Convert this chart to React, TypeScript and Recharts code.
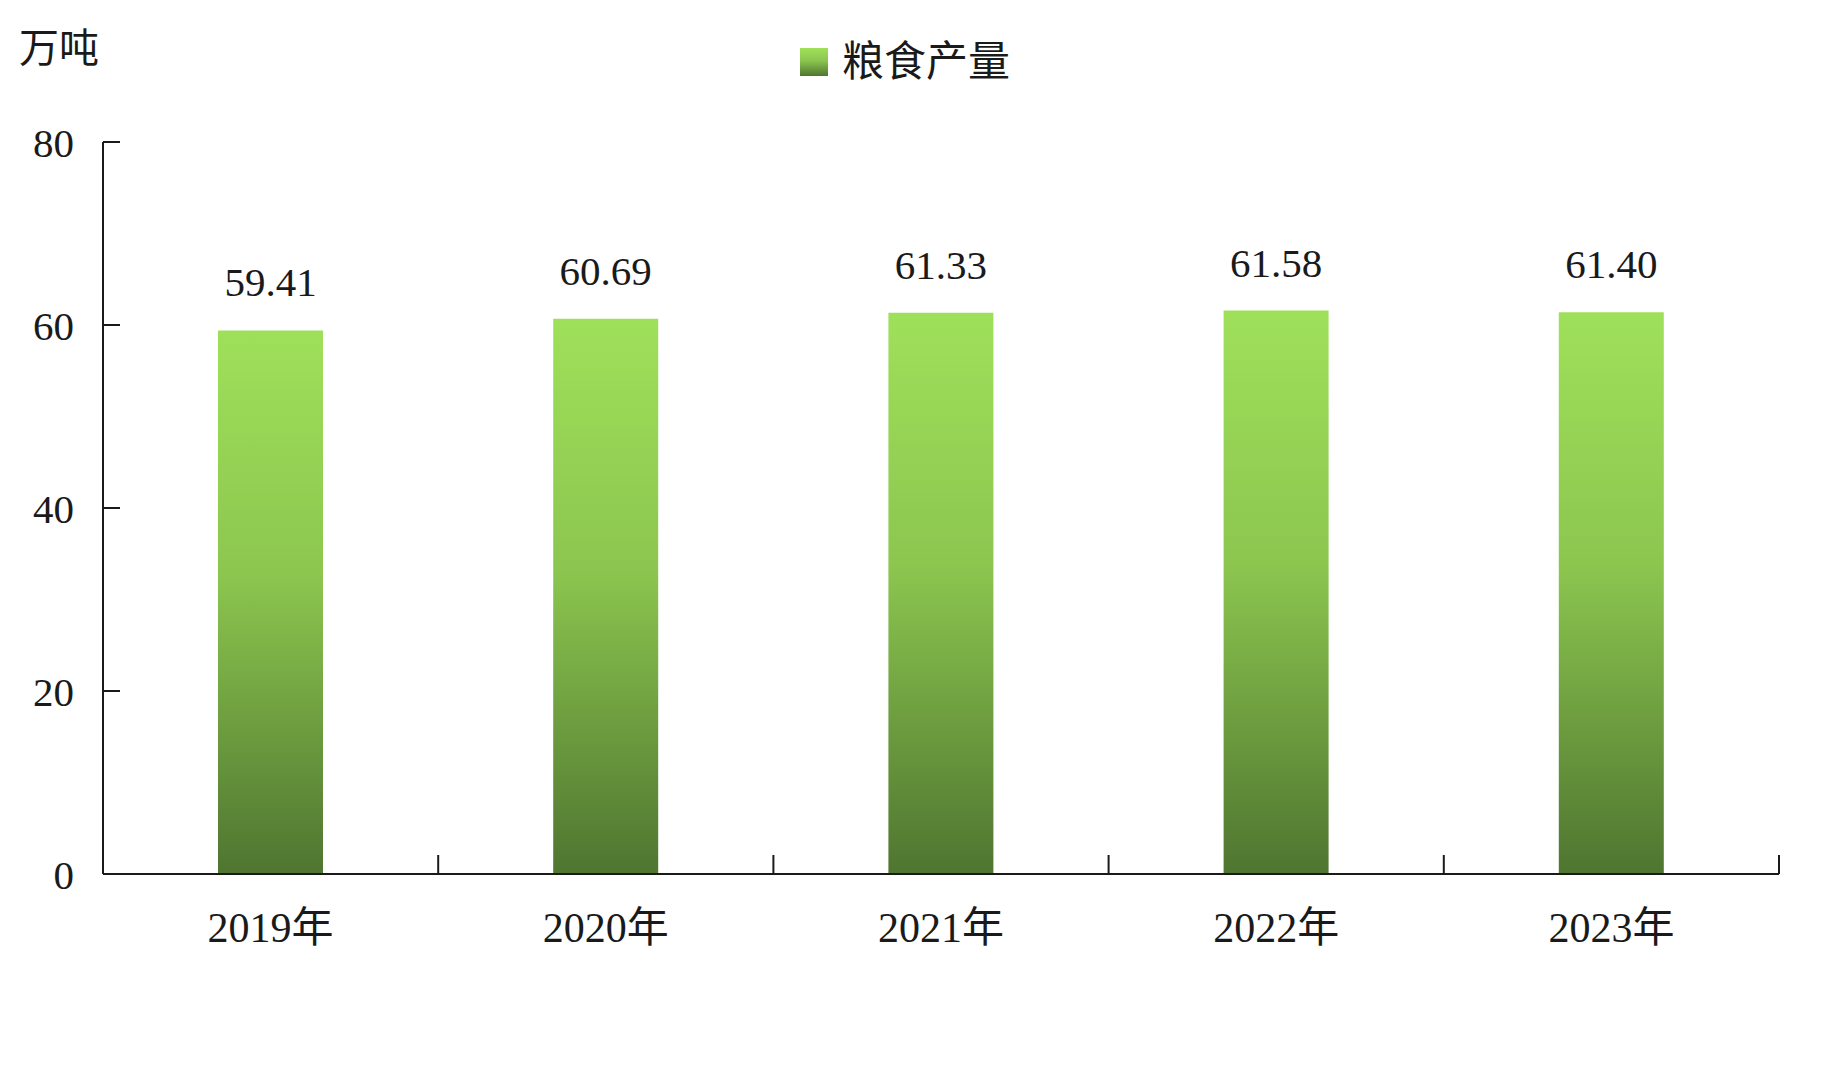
import { BarChart, Bar, XAxis, YAxis, LabelList, Legend } from 'recharts'

// 粮食产量 (万吨)
const years = ['2019年', '2020年', '2021年', '2022年', '2023年']
const grain = [59.41, 60.69, 61.33, 61.58, 61.4]
const yTicks = [0, 20, 40, 60, 80]
const seriesName = '粮食产量'
const unit = '万吨'

const W = 1824
const H = 1073
const MARGIN = { top: 142, right: 45, left: 0, bottom: 139 }
const Y_AXIS_W = 103
const X_TICK_MARGIN = 38
const HALF_BAND = (W - MARGIN.left - MARGIN.right - Y_AXIS_W) / years.length / 2

const FONT = '"Liberation Serif", "Times New Roman", "Noto Sans CJK SC", serif'
const INK = '#1a1a1a'

const chartData = years.map((year, i) => ({ year, value: grain[i] }))

function XTick({ x, y, payload }: any) {
  const axisY = y - X_TICK_MARGIN
  return (
    <g>
      <text x={x} y={y} dy="0.71em" textAnchor="middle" fill={INK} fontSize={42} fontFamily={FONT}>
        {payload.value}
      </text>
      <line x1={x + HALF_BAND} x2={x + HALF_BAND} y1={axisY} y2={axisY - 19} stroke={INK} strokeWidth={2} />
    </g>
  )
}

function LegendBox() {
  return (
    <div style={{ display: 'flex', alignItems: 'center', fontFamily: FONT, fontSize: 42, lineHeight: '42px', color: INK }}>
      <span style={{ width: 28, height: 28, marginRight: 14, background: 'linear-gradient(#9fe05a, #8cc64f 45%, #4f7530)' }} />
      <span>{seriesName}</span>
    </div>
  )
}

export default function App() {
  return (
    <div style={{ position: 'absolute', left: 0, top: 0, width: W, height: H, background: '#fff' }}>
      <div style={{ position: 'absolute', left: 19, top: 29, fontSize: 40, lineHeight: '40px', fontFamily: FONT, color: INK }}>
        {unit}
      </div>
      <BarChart width={W} height={H} data={chartData} margin={MARGIN}>
        <defs>
          <linearGradient id="grainFill" x1="0" y1="0" x2="0" y2="1">
            <stop offset="0%" stopColor="#9fe05a" />
            <stop offset="45%" stopColor="#8cc64f" />
            <stop offset="100%" stopColor="#4f7530" />
          </linearGradient>
        </defs>
        <XAxis
          dataKey="year"
          interval={0}
          height={60}
          tickSize={0}
          tickMargin={X_TICK_MARGIN}
          tickLine={false}
          axisLine={{ stroke: INK, strokeWidth: 2 }}
          tick={<XTick />}
        />
        <YAxis
          width={Y_AXIS_W}
          domain={[0, 80]}
          ticks={yTicks}
          interval={0}
          tickSize={-17}
          tickMargin={46}
          axisLine={{ stroke: INK, strokeWidth: 2 }}
          tickLine={{ stroke: INK, strokeWidth: 2 }}
          tick={{ fill: INK, fontSize: 41, fontFamily: FONT }}
        />
        <Legend
          layout="horizontal"
          verticalAlign="middle"
          align="center"
          wrapperStyle={{ top: 41, left: 800, width: 'auto' }}
          content={<LegendBox />}
        />
        <Bar dataKey="value" name={seriesName} fill="url(#grainFill)" barSize={105} isAnimationActive={false}>
          <LabelList
            dataKey="value"
            position="top"
            offset={34}
            formatter={(v: any) => Number(v).toFixed(2)}
            fill={INK}
            fontSize={41}
            fontFamily={FONT}
          />
        </Bar>
      </BarChart>
    </div>
  )
}
